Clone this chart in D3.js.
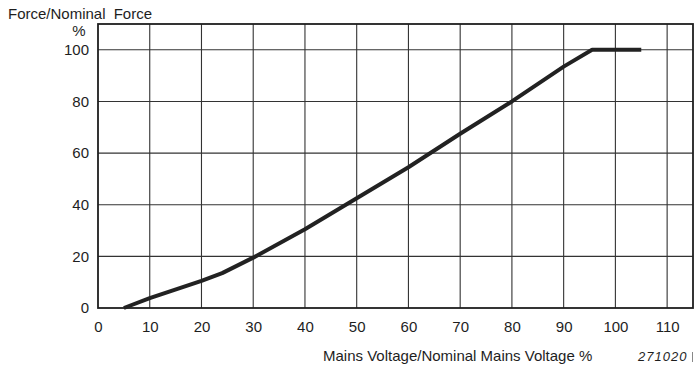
<!DOCTYPE html>
<html>
<head>
<meta charset="utf-8">
<script src="https://cdn.jsdelivr.net/npm/d3@7"></script>
<style>
  html, body { margin: 0; padding: 0; background: #fff; }
  svg { display: block; }
  text { font-family: "Liberation Sans", Arial, Helvetica, sans-serif; fill: #1e1e1e; }
</style>
</head>
<body>
<svg id="chart" width="695" height="367"></svg>
<script>
// Mains voltage (% of nominal) and the resulting force (% of nominal)
const voltagePct = [5, 10, 20, 24, 30, 40, 50, 60, 70, 80, 90, 95.5, 105];
const forcePct   = [0, 3.8, 10.5, 13.5, 19.5, 30.5, 42.5, 54.5, 67.5, 80, 93.5, 100, 100];

const xTicks = [0, 10, 20, 30, 40, 50, 60, 70, 80, 90, 100, 110];
const yTicks = [0, 20, 40, 60, 80, 100];

const yTitle = "Force/Nominal Force";
const yUnit = "%";
const xTitle = "Mains Voltage/Nominal Mains Voltage %";
const figRef = "271020";

const svg = d3.select("#chart");
const ink = "#1e1e1e";

const x = d3.scaleLinear().domain([0, 115]).range([98, 693]);
const y = d3.scaleLinear().domain([0, 110]).range([308, 24]);

// grid
const grid = svg.append("g").attr("stroke", "#333").attr("stroke-width", 1.1);
grid.selectAll("line.v").data(xTicks.filter(d => d > 0)).join("line")
  .attr("x1", d => x(d)).attr("x2", d => x(d))
  .attr("y1", y(0)).attr("y2", y(110));
grid.selectAll("line.h").data(yTicks.filter(d => d > 0)).join("line")
  .attr("x1", x(0)).attr("x2", x(115))
  .attr("y1", d => y(d)).attr("y2", d => y(d));

// frame
svg.append("rect")
  .attr("x", x(0)).attr("y", y(110))
  .attr("width", x(115) - x(0)).attr("height", y(0) - y(110))
  .attr("fill", "none").attr("stroke", ink).attr("stroke-width", 1.8);

// axes (labels only; grid and frame supply the lines)
const xAxis = d3.axisBottom(x).tickValues(xTicks).tickSize(0).tickPadding(13.5);
const gx = svg.append("g").attr("transform", `translate(0,${y(0)})`).call(xAxis);
gx.select(".domain").remove();
gx.selectAll("text").attr("font-size", 15).attr("font-family", null).attr("fill", ink);

const yAxis = d3.axisLeft(y).tickValues(yTicks).tickSize(0).tickPadding(9);
const gy = svg.append("g").attr("transform", `translate(${x(0)},0)`).call(yAxis);
gy.select(".domain").remove();
gy.selectAll("text").attr("font-size", 15).attr("font-family", null).attr("fill", ink);

// curve
const line = d3.line().x(d => x(d[0])).y(d => y(d[1]));
svg.append("path")
  .datum(d3.zip(voltagePct, forcePct))
  .attr("d", line)
  .attr("fill", "none")
  .attr("stroke", "#222")
  .attr("stroke-width", 4)
  .attr("stroke-linejoin", "round");

// titles
svg.append("text").attr("x", 8).attr("y", 18.5).attr("font-size", 15)
  .attr("word-spacing", 4).text(yTitle);
svg.append("text").attr("x", 85.5).attr("y", 35.5).attr("font-size", 15)
  .attr("text-anchor", "end").text(yUnit);
svg.append("text").attr("x", 323).attr("y", 361).attr("font-size", 15).text(xTitle);
svg.append("text").attr("x", 638).attr("y", 361).attr("font-size", 13)
  .attr("font-style", "italic").attr("letter-spacing", 1).text(figRef);
svg.append("line").attr("x1", 692.5).attr("x2", 692.5).attr("y1", 352).attr("y2", 362)
  .attr("stroke", "#888").attr("stroke-width", 1);
</script>
</body>
</html>
